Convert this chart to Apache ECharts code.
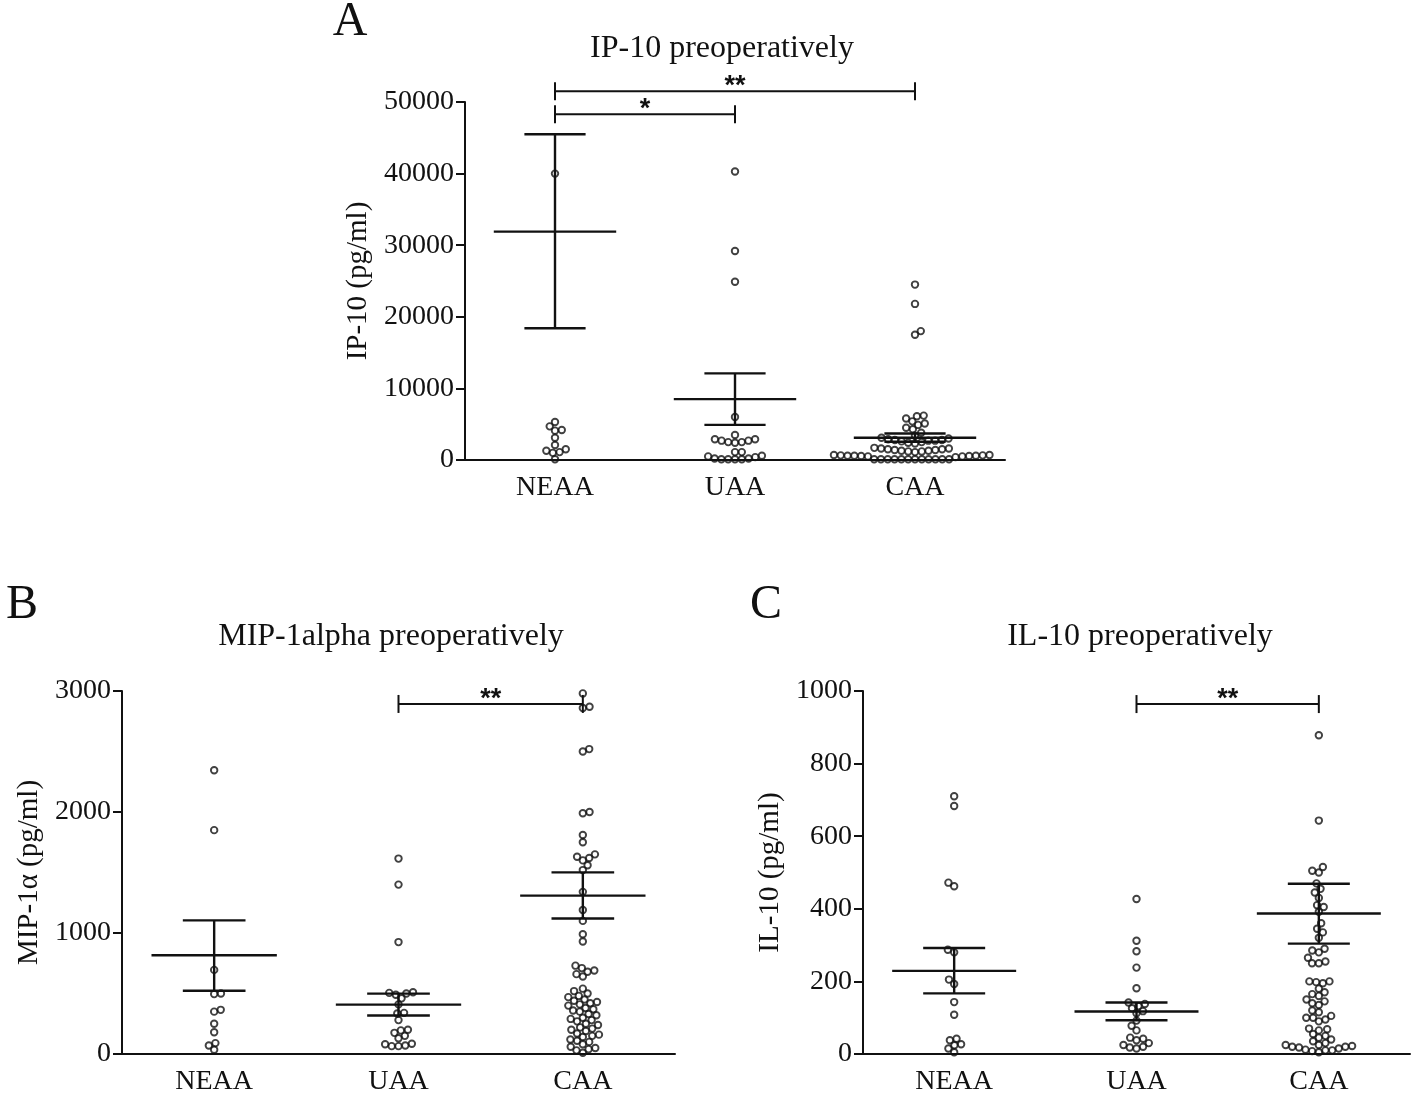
<!DOCTYPE html>
<html><head><meta charset="utf-8">
<script src="https://cdn.jsdelivr.net/npm/echarts@6/dist/echarts.min.js"></script>
<style>html,body{margin:0;padding:0;background:#fff}#chart{width:1418px;height:1096px}</style>
</head><body><div id="chart"></div>
<script>
// ---------------- DATA ----------------
const categories = ['NEAA', 'UAA', 'CAA'];

// Panel A: IP-10 (pg/ml)
const ip10_NEAA = [40000, 5300, 4700, 4200, 4100, 3100, 2100, 1500, 1300, 1100, 1000, 100];
const ip10_UAA = [40300, 29200, 24900, 6000, 3500, 2900, 2700, 2500, 2400, 2500, 2700, 2900, 1100, 1100, 600, 400, 200, 100, 100, 100, 100, 200, 500];
const ip10_CAA = [24500, 21800, 18000, 17500,
  6200, 6100, 5800, 5400, 5100, 4900, 4500, 4300, 3800, 3400,
  3100, 3000, 2900, 2800, 2800, 2700, 2700, 2600, 2500, 2400, 2300,
  1700, 1600, 1600, 1500, 1500, 1400, 1400, 1300, 1300, 1200, 1200, 1100,
  700, 700, 650, 650, 600, 600, 600, 550, 550, 500, 500, 400,
  100, 100, 100, 100, 100, 100, 100, 100, 100, 100, 100, 100];
const ip10Mean = [31900, 8500, 3100];
const ip10Upper = [45500, 12100, 3700];
const ip10Lower = [18400, 4900, 2550];
const ip10Sig = [[0, 1, 48300], [0, 2, 51500]];
const ip10SigLabels = ['*', '**'];

// Panel B: MIP-1alpha (pg/ml)
const mip_NEAA = [2345, 1850, 695, 500, 495, 365, 350, 250, 180, 90, 70, 35];
const mip_UAA = [1615, 1400, 925, 510, 505, 500, 490, 460, 410, 340, 335, 280, 200, 195, 175, 150, 130, 85, 80, 70, 65, 65];
const mip_CAA = [2980, 2870, 2860, 2520, 2500, 2000, 1990, 1810, 1750, 1650, 1630, 1620, 1600, 1560, 1520, 1340, 1190, 1100, 990, 930,
  730, 710, 690, 680, 660, 640,
  540, 520, 500, 480, 470, 450, 440, 430, 420, 410, 400, 380, 370, 360, 350, 330, 320, 300, 290, 280,
  270, 250, 240, 220, 210, 200, 190, 170, 160, 150, 140, 120, 110, 100, 80, 60, 50, 40, 30, 10];
const mipMean = [816, 408, 1309];
const mipUpper = [1104, 499, 1501];
const mipLower = [523, 318, 1120];
const mipSig = [[1, 2, 2893]];
const mipSigLabels = ['**'];

// Panel C: IL-10 (pg/ml)
const il10_NEAA = [710, 683, 472, 462, 287, 280, 205, 193, 143, 108, 42, 38, 27, 24, 15, 5];
const il10_UAA = [427, 312, 283, 238, 181, 142, 138, 132, 126, 118, 112, 92, 78, 65, 45, 42, 38, 30, 25, 20, 18, 15];
const il10_CAA = [878, 643, 515, 505, 500, 470, 455, 445, 430, 410, 405, 392, 360, 345, 335, 320,
  290, 285, 280, 265, 255, 250, 250, 200, 200, 198, 195, 180, 170, 165, 160, 150, 145, 140, 135,
  120, 115, 105, 100, 100, 95, 90, 70, 68, 65, 55, 50, 45, 40, 35, 30, 25, 25, 22, 20, 20, 18, 15, 12, 10, 10, 8, 5];
const il10Mean = [229, 117, 387];
const il10Upper = [292, 142, 469];
const il10Lower = [167, 93, 304];
const il10Sig = [[1, 2, 964]];
const il10SigLabels = ['**'];

// ---------------- LAYOUT ----------------
const SERIF = "'Liberation Serif', 'Times New Roman', serif";
const INK = '#111';
const panels = [
  { grid: { left: 465, top: 102, width: 540, height: 358 }, max: 50000, interval: 10000, name: 'IP-10 (pg/ml)', nameGap: 92,
    groups: [ip10_NEAA, ip10_UAA, ip10_CAA], mean: ip10Mean, upper: ip10Upper, lower: ip10Lower, sig: ip10Sig, sigLabels: ip10SigLabels },
  { grid: { left: 122, top: 691, width: 553, height: 365 }, max: 3000, interval: 1000, name: 'MIP-1\u03b1 (pg/ml)', nameGap: 78,
    groups: [mip_NEAA, mip_UAA, mip_CAA], mean: mipMean, upper: mipUpper, lower: mipLower, sig: mipSig, sigLabels: mipSigLabels },
  { grid: { left: 863, top: 691, width: 547, height: 365 }, max: 1000, interval: 200, name: 'IL-10 (pg/ml)', nameGap: 78,
    groups: [il10_NEAA, il10_UAA, il10_CAA], mean: il10Mean, upper: il10Upper, lower: il10Lower, sig: il10Sig, sigLabels: il10SigLabels }
];

// beeswarm offsets (pixels) computed from values
function swarm(values, pxPerUnit, d) {
  const order = values.map((v, i) => i).sort((a, b) => values[a] - values[b]);
  const placed = [];
  const offs = new Array(values.length).fill(0);
  let flip = 1;
  for (const i of order) {
    const y = values[i] * pxPerUnit;
    const cands = [0];
    for (const p of placed) {
      const dy = Math.abs(p.y - y);
      if (dy < d) {
        const dx = Math.sqrt(d * d - dy * dy);
        cands.push(p.x + dx + 0.01, p.x - dx - 0.01);
      }
    }
    cands.sort((a, b) => (Math.abs(a) - Math.abs(b)) || (flip * (b - a)));
    for (const c of cands) {
      if (placed.every(p => (p.x - c) * (p.x - c) + (p.y - y) * (p.y - y) >= d * d - 0.02)) {
        offs[i] = c; placed.push({ x: c, y: y }); break;
      }
    }
    flip = -flip;
  }
  return offs;
}

const option = {
  animation: false,
  backgroundColor: '#fff',
  grid: [], xAxis: [], yAxis: [], series: [],
  graphic: [
    { type: 'text', x: 350, y: 22, style: { text: 'A', font: '48px ' + SERIF, fill: INK, align: 'center', verticalAlign: 'middle' } },
    { type: 'text', x: 722, y: 49, style: { text: 'IP-10 preoperatively', font: '32px ' + SERIF, fill: INK, align: 'center', verticalAlign: 'middle' } },
    { type: 'text', x: 22, y: 605, style: { text: 'B', font: '48px ' + SERIF, fill: INK, align: 'center', verticalAlign: 'middle' } },
    { type: 'text', x: 391, y: 637, style: { text: 'MIP-1alpha preoperatively', font: '32px ' + SERIF, fill: INK, align: 'center', verticalAlign: 'middle' } },
    { type: 'text', x: 766, y: 605, style: { text: 'C', font: '48px ' + SERIF, fill: INK, align: 'center', verticalAlign: 'middle' } },
    { type: 'text', x: 1140, y: 637, style: { text: 'IL-10 preoperatively', font: '32px ' + SERIF, fill: INK, align: 'center', verticalAlign: 'middle' } }
  ]
};

panels.forEach((p, k) => {
  option.grid.push(Object.assign({ containLabel: false }, p.grid));
  option.xAxis.push({
    type: 'category', gridIndex: k, data: categories, boundaryGap: true,
    axisLine: { lineStyle: { color: INK, width: 2 } },
    axisTick: { alignWithLabel: true, length: 10, lineStyle: { color: INK, width: 2 } },
    axisLabel: { color: INK, fontFamily: SERIF, fontSize: 28, margin: 14 },
    splitLine: { show: false }
  });
  option.yAxis.push({
    type: 'value', gridIndex: k, min: 0, max: p.max, interval: p.interval,
    name: p.name, nameLocation: 'middle', nameGap: p.nameGap, nameRotate: 90,
    nameTextStyle: { color: INK, fontFamily: SERIF, fontSize: 29 },
    axisLine: { show: true, lineStyle: { color: INK, width: 2 } },
    axisTick: { show: true, length: 9, lineStyle: { color: INK, width: 2 } },
    axisLabel: { color: INK, fontFamily: SERIF, fontSize: 28, margin: 11, formatter: v => String(v) },
    splitLine: { show: false }
  });
  const pxPerUnit = p.grid.height / p.max;
  p.groups.forEach((vals, gi) => {
    const offs = swarm(vals, pxPerUnit, 6.8);
    option.series.push({
      type: 'scatter', xAxisIndex: k, yAxisIndex: k, z: 3, silent: true,
      symbol: 'circle', symbolSize: 6.5,
      itemStyle: { color: 'rgba(255,255,255,0)', borderColor: INK, borderWidth: 1.9 },
      data: vals.map((v, i) => ({ value: [gi, v], symbolOffset: [offs[i], 0] }))
    });
  });
  // mean +/- SEM
  option.series.push({
    type: 'custom', xAxisIndex: k, yAxisIndex: k, z: 5, silent: true, clip: false,
    encode: { x: 0, y: [1, 2, 3] },
    data: categories.map((c, i) => [i, p.mean[i], p.lower[i], p.upper[i]]),
    renderItem: function (params, api) {
      const m = api.coord([api.value(0), api.value(1)]);
      const lo = api.coord([api.value(0), api.value(2)]);
      const hi = api.coord([api.value(0), api.value(3)]);
      const band = api.size([1, 0])[0];
      const hw = band * 0.34, cw = band * 0.17;
      const st = { stroke: INK, lineWidth: 2.4 };
      return { type: 'group', children: [
        { type: 'line', shape: { x1: m[0] - hw, y1: m[1], x2: m[0] + hw, y2: m[1] }, style: st },
        { type: 'line', shape: { x1: m[0] - cw, y1: lo[1], x2: m[0] + cw, y2: lo[1] }, style: st },
        { type: 'line', shape: { x1: m[0] - cw, y1: hi[1], x2: m[0] + cw, y2: hi[1] }, style: st },
        { type: 'line', shape: { x1: m[0], y1: lo[1], x2: m[0], y2: hi[1] }, style: st }
      ] };
    }
  });
  // significance brackets
  option.series.push({
    type: 'custom', xAxisIndex: k, yAxisIndex: k, z: 5, silent: true, clip: false,
    encode: { x: [0, 1], y: 2 },
    data: p.sig,
    renderItem: function (params, api) {
      const a = api.coord([api.value(0), api.value(2)]);
      const b = api.coord([api.value(1), api.value(2)]);
      const st = { stroke: INK, lineWidth: 2 };
      return { type: 'group', children: [
        { type: 'line', shape: { x1: a[0], y1: a[1], x2: b[0], y2: b[1] }, style: st },
        { type: 'line', shape: { x1: a[0], y1: a[1] - 9, x2: a[0], y2: a[1] + 9 }, style: st },
        { type: 'line', shape: { x1: b[0], y1: b[1] - 9, x2: b[0], y2: b[1] + 9 }, style: st },
        { type: 'text', x: (a[0] + b[0]) / 2, y: a[1] + 9,
          style: { text: p.sigLabels[params.dataIndex], font: 'bold 27px "Liberation Sans", Arial, sans-serif', fill: INK, align: 'center', verticalAlign: 'bottom' } }
      ] };
    }
  });
});

const chart = echarts.init(document.getElementById('chart'), null, { renderer: 'canvas' });
chart.setOption(option);
</script>
</body></html>
